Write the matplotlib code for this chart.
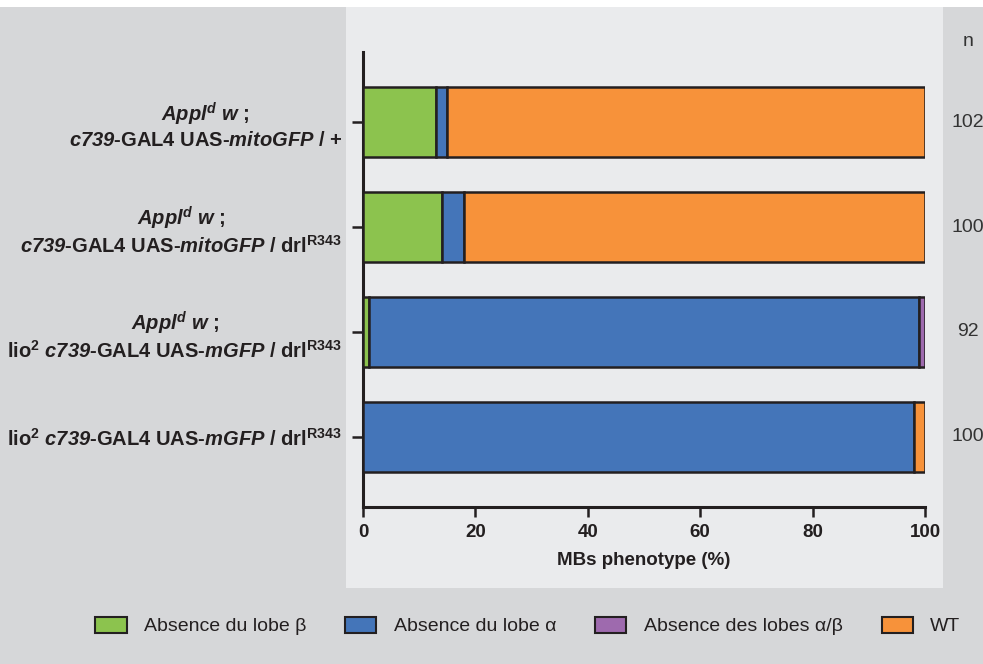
import matplotlib
matplotlib.use("Agg")
import matplotlib.pyplot as plt
from matplotlib.patches import Patch, Rectangle
import numpy as np

plt.rcParams['font.family'] = ['Liberation Sans', 'DejaVu Sans']
plt.rcParams['mathtext.fontset'] = 'custom'
plt.rcParams['mathtext.rm'] = 'Liberation Sans:bold'
plt.rcParams['mathtext.it'] = 'Liberation Sans:italic:bold'
plt.rcParams['mathtext.sf'] = 'Liberation Sans:italic:bold'
plt.rcParams['mathtext.bf'] = 'Liberation Sans:bold'

# data (top to bottom)
genotypes = [
    r"$\mathsf{Appl}^{\mathsf{d}}\ \mathsf{w}$ ;" "\n" r"$\mathsf{c739}$-GAL4 UAS-$\mathsf{mitoGFP}$ / +",
    r"$\mathsf{Appl}^{\mathsf{d}}\ \mathsf{w}$ ;" "\n" r"$\mathsf{c739}$-GAL4 UAS-$\mathsf{mitoGFP}$ / drl$^{\mathrm{R343}}$",
    r"$\mathsf{Appl}^{\mathsf{d}}\ \mathsf{w}$ ;" "\n" r"lio$^{\mathrm{2}}$ $\mathsf{c739}$-GAL4 UAS-$\mathsf{mGFP}$ / drl$^{\mathrm{R343}}$",
    r"lio$^{\mathrm{2}}$ $\mathsf{c739}$-GAL4 UAS-$\mathsf{mGFP}$ / drl$^{\mathrm{R343}}$",
]
no_beta = [13, 14, 1, 0]
no_alpha = [2, 4, 98, 98]
no_both = [0, 0, 1, 0]
wild_type = [85, 82, 0, 2]
n_flies = [102, 100, 92, 100]

series = [
    ("Absence du lobe β", no_beta, "#8cc34e"),
    ("Absence du lobe α", no_alpha, "#4475b9"),
    ("Absence des lobes α/β", no_both, "#9e6aae"),
    ("WT", wild_type, "#f7923a"),
]

ink = "#231f20"
W, H = 983, 664
fig = plt.figure(figsize=(W / 100, H / 100), dpi=100)
fig.patch.set_facecolor("#d6d7d9")

# white strip on top + lighter panel behind the plot
fig.patches.append(Rectangle((0, 1 - 7 / H), 1, 7 / H, transform=fig.transFigure,
                             facecolor="white", edgecolor="none", zorder=-10))
fig.patches.append(Rectangle((346 / W, 1 - 588 / H), (943 - 346) / W, (588 - 7) / H,
                             transform=fig.transFigure, facecolor="#eaebed",
                             edgecolor="none", zorder=-10))

ax = fig.add_axes([363 / W, 1 - 507 / H, (925 - 363) / W, (507 - 52) / H])
ax.set_facecolor("none")

y = np.arange(len(genotypes))
left = np.zeros(len(genotypes))
for name, vals, col in series:
    vals = np.array(vals, dtype=float)
    lw = np.where(vals > 0, 1.8, 0)
    ax.barh(y, vals, left=left, height=0.66, color=col, edgecolor=ink,
            linewidth=lw, zorder=3)
    left += vals

ax.set_xlim(0, 100)
ax.set_ylim(len(genotypes) - 1 + 0.667, -0.667)
ax.set_xticks([0, 20, 40, 60, 80, 100])
ax.set_yticks(y)
ax.set_yticklabels(genotypes, fontsize=14.5, fontweight="bold", color=ink)
for t in ax.get_yticklabels():
    t.set_multialignment("center")
    t.set_linespacing(1.2)
for t in ax.get_xticklabels():
    t.set_fontweight("bold")
ax.tick_params(axis="x", labelsize=13.5, length=7, width=1.8, color=ink, labelcolor=ink, pad=5)
ax.tick_params(axis="y", length=8, width=1.8, color=ink, pad=7)
for s in ["top", "right"]:
    ax.spines[s].set_visible(False)
for s in ["left", "bottom"]:
    ax.spines[s].set_linewidth(2.2)
    ax.spines[s].set_color(ink)
ax.set_xlabel("MBs phenotype (%)", fontsize=13.5, fontweight="bold", color=ink, labelpad=8)

# n column
fig.text(968 / W, 1 - 41 / H, "n", ha="center", va="center", fontsize=14, color="#333333")
for yi, n in zip(y, n_flies):
    yd = ax.transData.transform((0, yi))[1]
    fig.text(968 / W, yd / H, str(n), ha="center", va="center", fontsize=14,
             color="#333333")

handles = [Patch(facecolor=c, edgecolor=ink, linewidth=1.5, label=nm) for nm, _, c in series]
fig.legend(handles=handles, loc="center", bbox_to_anchor=(528 / W, 1 - 626 / H), ncol=4,
           frameon=False, fontsize=14, handlelength=1.6, handleheight=0.9,
           columnspacing=2.0, handletextpad=0.9, labelcolor=ink)

fig.savefig("out.png", dpi=100, facecolor=fig.get_facecolor())
